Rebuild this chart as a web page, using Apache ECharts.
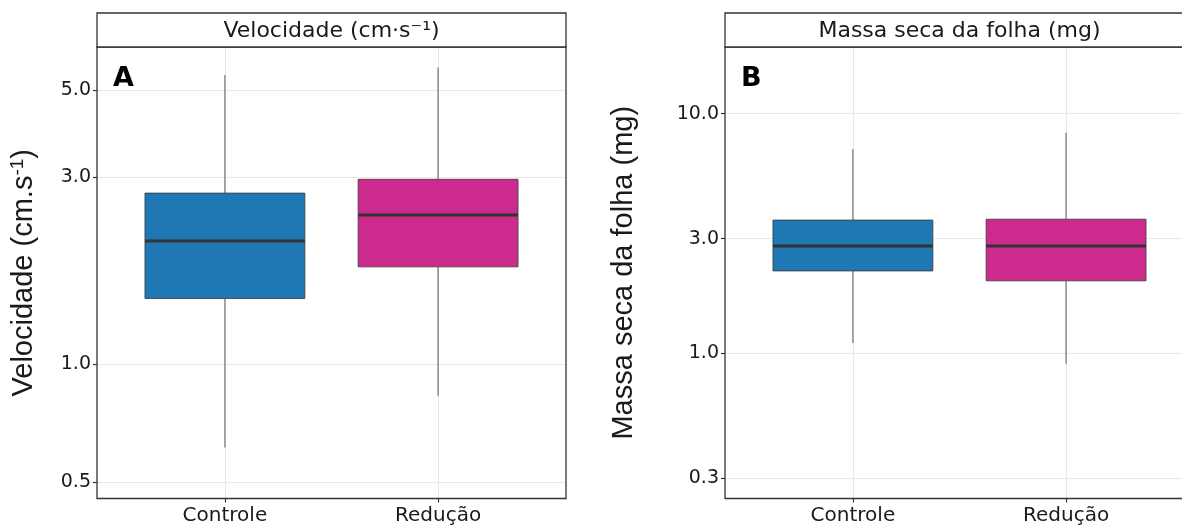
<!DOCTYPE html>
<html>
<head>
<meta charset="utf-8">
<script src="https://cdn.jsdelivr.net/npm/echarts@6/dist/echarts.min.js"></script>
<style>
  html, body { margin: 0; padding: 0; background: #ffffff; }
  #chart { width: 1182px; height: 527px; }
</style>
</head>
<body>
<div id="chart"></div>
<script>
// Groups on the horizontal axis
const categories = ['Controle', 'Redução'];

// Box summaries per group: [min, Q1, median, Q3, max]
const velocidade = [
  [0.613, 1.47, 2.06, 2.73, 5.46],
  [0.830, 1.77, 2.40, 2.96, 5.71]
];
const massaSeca = [
  [1.10, 2.20, 2.80, 3.59, 7.12],
  [0.90, 2.00, 2.80, 3.62, 8.32]
];

// Tick values on the log axes
const velTicks = [0.5, 1, 3, 5];
const massaTicks = [0.3, 1, 3, 10];

const panelTitles = ['Velocidade (cm·s⁻¹)', 'Massa seca da folha (mg)'];
const panelLetters = ['A', 'B'];
const fills = ['#1f77b4', '#cc2a8d'];

const TXT = '#1a1a1a';
const FRAME = '#333333';
const GRIDLINE = '#e8e8e8';
const SANS = '"DejaVu Sans", sans-serif';
const ARIAL = '"Liberation Sans", Arial, sans-serif';

const panels = [
  { left: 97, width: 469, yMin: 0.454, yMax: 6.44, ticks: velTicks, data: velocidade,
    name: 'Velocidade (cm.s{sup|-1})', nameGap: 58 },
  { left: 725, width: 469, yMin: 0.246, yMax: 19.0, ticks: massaTicks, data: massaSeca,
    name: 'Massa seca da folha (mg)', nameGap: 86 }
];
const TOP = 47, HEIGHT = 451.5, STRIP_TOP = 13;

function toRows(summary) {
  // prepend the group position (1, 2, ...) to each summary
  return summary.map((s, i) => [i + 1].concat(s));
}

function renderBox(params, api) {
  const x = api.value(0);
  const half = 0.375;
  const pMin = api.coord([x, api.value(1)]);
  const pQ1 = api.coord([x, api.value(2)]);
  const pMed = api.coord([x, api.value(3)]);
  const pQ3 = api.coord([x, api.value(4)]);
  const pMax = api.coord([x, api.value(5)]);
  const xl = api.coord([x - half, api.value(3)])[0];
  const xr = api.coord([x + half, api.value(3)])[0];
  const cx = pMed[0];
  const whisker = { stroke: '#8c8c8c', lineWidth: 1.5 };
  return {
    type: 'group',
    children: [
      { type: 'line', shape: { x1: cx, y1: pQ3[1], x2: cx, y2: pMax[1] }, style: whisker },
      { type: 'line', shape: { x1: cx, y1: pQ1[1], x2: cx, y2: pMin[1] }, style: whisker },
      { type: 'rect', shape: { x: xl, y: pQ3[1], width: xr - xl, height: pQ1[1] - pQ3[1] },
        style: { fill: fills[params.dataIndex], stroke: '#3a3a3a', lineWidth: 0.8 } },
      { type: 'line', shape: { x1: xl, y1: pMed[1], x2: xr, y2: pMed[1] },
        style: { stroke: '#333333', lineWidth: 3 } }
    ]
  };
}

const grid = [], xAxis = [], yAxis = [], series = [], graphic = [];

panels.forEach((p, i) => {
  grid.push({
    left: p.left, top: TOP, width: p.width, height: HEIGHT,
    show: false, containLabel: false, outerBoundsMode: 'none'
  });
  xAxis.push({
    type: 'value', gridIndex: i, min: 0.4, max: 2.6,
    axisLine: { show: false },
    axisTick: { show: true, length: 4, customValues: [1, 2], lineStyle: { color: FRAME, width: 1.2 } },
    axisLabel: {
      customValues: [1, 2], margin: 7,
      formatter: v => categories[Math.round(v) - 1],
      color: TXT, fontFamily: SANS, fontSize: 20
    },
    splitLine: { show: true, lineStyle: { color: GRIDLINE, width: 1 } }
  });
  yAxis.push({
    type: 'log', logBase: 10, gridIndex: i, min: p.yMin, max: p.yMax,
    axisLine: { show: false },
    axisTick: { show: true, length: 4, customValues: p.ticks, lineStyle: { color: FRAME, width: 1.2 } },
    axisLabel: {
      customValues: p.ticks, margin: 6,
      formatter: v => Number(v).toFixed(1),
      color: TXT, fontFamily: SANS, fontSize: 19
    },
    splitLine: { show: true, lineStyle: { color: GRIDLINE, width: 1 } },
    minorTick: { show: false }, minorSplitLine: { show: false },
    name: p.name, nameLocation: 'middle', nameRotate: 90, nameGap: p.nameGap,
    nameTextStyle: {
      color: TXT, fontFamily: ARIAL, fontSize: 29, lineHeight: 31,
      rich: { sup: { fontSize: 19, verticalAlign: 'top', lineHeight: 31, color: TXT,
                     fontFamily: ARIAL, padding: [0, 0, 12, 0] } }
    }
  });
  series.push({
    type: 'custom', xAxisIndex: i, yAxisIndex: i,
    data: toRows(p.data),
    encode: { x: 0, y: [1, 2, 3, 4, 5] },
    renderItem: renderBox,
    clip: true, silent: true
  });

  // panel frame, drawn above the grid lines
  graphic.push({
    type: 'rect', z: 10, silent: true,
    shape: { x: p.left, y: TOP, width: p.width, height: HEIGHT },
    style: { fill: 'none', stroke: FRAME, lineWidth: 1.3 }
  });
  // facet strip above the panel
  graphic.push({
    type: 'rect', z: 10, silent: true,
    shape: { x: p.left, y: STRIP_TOP, width: p.width, height: TOP - STRIP_TOP },
    style: { fill: '#ffffff', stroke: FRAME, lineWidth: 1.3 }
  });
  graphic.push({
    type: 'text', x: p.left + p.width / 2, y: (STRIP_TOP + TOP) / 2 + 1, z: 11, silent: true,
    style: { text: panelTitles[i], fill: TXT, font: '22px ' + SANS,
             textAlign: 'center', textVerticalAlign: 'middle' }
  });
  // panel letter
  graphic.push({
    type: 'text', x: p.left + 16, y: 79, z: 11, silent: true,
    style: { text: panelLetters[i], fill: '#000000', font: 'bold 27px ' + SANS,
             textAlign: 'left', textVerticalAlign: 'middle' }
  });
});

const chart = echarts.init(document.getElementById('chart'), null, { renderer: 'canvas' });
chart.setOption({
  animation: false,
  backgroundColor: '#ffffff',
  grid, xAxis, yAxis, series, graphic
});
</script>
</body>
</html>
